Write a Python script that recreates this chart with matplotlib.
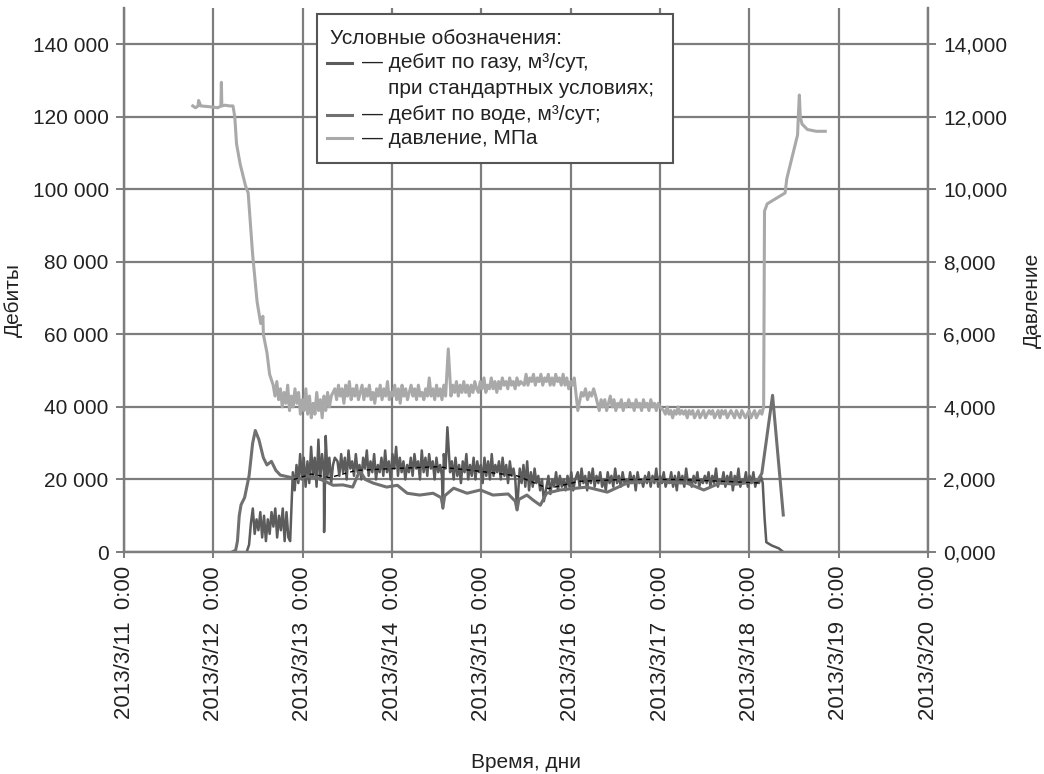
import numpy as np
import matplotlib
matplotlib.use("Agg")
import matplotlib.pyplot as plt
import matplotlib.dates as mdates
from matplotlib.ticker import FuncFormatter, FixedLocator
from matplotlib.lines import Line2D
from matplotlib.patches import Rectangle
from datetime import datetime

plt.rcParams['font.family'] = ['Liberation Sans', 'DejaVu Sans']

# время в сутках от 2013/3/11 0:00
# давление, МПа: начало (до спуска), шумная полка по участкам, подъём после остановки
press_t_start = [0.77, 0.80, 0.83, 0.835, 0.86, 0.95, 1.05, 1.085, 1.09, 1.095, 1.13, 1.18, 1.22,
                 1.24, 1.26, 1.30, 1.33, 1.36, 1.39, 1.44, 1.49, 1.53, 1.555, 1.56, 1.60, 1.63]
press_v_start = [12.3, 12.25, 12.3, 12.45, 12.3, 12.28, 12.25, 12.3, 12.95, 12.3, 12.32, 12.3, 12.3,
                 12.0, 11.25, 10.7, 10.4, 10.1, 9.9, 8.2, 6.9, 6.3, 6.5, 6.0, 5.5, 4.9]
press_seg_t0 = [1.67, 2.36, 3.66, 4.48, 5.12, 5.32, 6.04]
press_seg_t1 = [2.32, 3.60, 4.44, 5.04, 5.28, 6.00, 7.14]
press_seg_v = [
    [4.6, 4.3, 4.7, 4.2, 4.5, 4.0, 4.4, 4.1, 4.6, 3.9, 4.3, 4.0, 4.5, 4.1, 4.4, 3.8, 4.2, 3.9,
     4.5, 3.8, 4.3, 3.7, 4.1, 3.8, 4.4, 3.9, 4.2, 3.7, 4.3, 3.9, 4.4, 4.0, 4.3],
    [4.5, 4.2, 4.6, 4.3, 4.5, 4.1, 4.6, 4.3, 4.7, 4.2, 4.5, 4.3, 4.6, 4.2, 4.4, 4.6, 4.2, 4.5,
     4.3, 4.6, 4.2, 4.4, 4.1, 4.5, 4.3, 4.6, 4.2, 4.5, 4.3, 4.7, 4.2, 4.4, 4.3, 4.6, 4.2, 4.5,
     4.1, 4.6, 4.3, 4.5, 4.2, 4.4, 4.6, 4.3, 4.5, 4.2, 4.6, 4.3, 4.4, 4.2, 4.5, 4.3, 4.8, 4.3,
     4.5, 4.2, 4.6, 4.3, 4.5, 4.2, 4.6, 4.3],
    [4.3, 4.6, 4.4, 4.7, 4.3, 4.6, 4.4, 4.7, 4.4, 4.6, 4.3, 4.6, 4.4, 4.7, 4.5, 4.4, 4.7, 4.5,
     4.8, 4.4, 4.6, 4.5, 4.8, 4.5, 4.7, 4.4, 4.7, 4.5, 4.8, 4.6, 4.7, 4.5, 4.8, 4.6, 4.7, 4.5,
     4.8, 4.6, 4.7],
    [4.6, 4.9, 4.6, 4.8, 4.7, 4.9, 4.6, 4.8, 4.7, 4.9, 4.6, 4.8, 4.7, 4.9, 4.6, 4.8, 4.6, 4.9,
     4.7, 4.8, 4.6, 4.9, 4.6, 4.8, 4.5, 4.7, 4.6, 4.8],
    [4.4, 4.3, 4.5, 4.2, 4.4, 4.3, 4.5, 4.3],
    [3.9, 4.2, 4.0, 4.2, 3.9, 4.1, 4.3, 4.0, 4.2, 3.9, 4.1, 4.0, 4.2, 3.9, 4.1, 4.0, 4.2, 4.0,
     4.1, 3.9, 4.2, 4.0, 4.1, 3.9, 4.2, 4.0, 4.1, 3.9, 4.2, 4.0, 4.1, 3.9, 4.1, 4.0],
    [3.9, 3.8, 4.0, 3.8, 3.9, 3.7, 3.9, 3.8, 4.0, 3.8, 3.9, 3.8, 3.9, 3.7, 3.9, 3.8, 3.9, 3.7,
     3.8, 3.9, 3.7, 3.8, 3.9, 3.7, 3.8, 3.9, 3.8, 3.9, 3.7, 3.8, 3.9, 3.7, 3.9, 3.8, 3.9, 3.7,
     3.8, 3.9, 3.8, 3.7, 3.9, 3.8, 3.7, 3.9, 3.8, 3.7, 3.8, 3.9, 3.7, 3.8, 3.9, 3.7, 3.8, 3.9,
     3.8],
]
press_spike_t = [3.63, 5.08]
press_spike_v = [5.6, 3.9]
press_t_end = [7.16, 7.17, 7.20, 7.30, 7.40, 7.42, 7.48, 7.54, 7.55, 7.56, 7.57, 7.59, 7.65, 7.75, 7.85]
press_v_end = [4.0, 9.4, 9.6, 9.75, 9.9, 10.3, 10.9, 11.5, 12.1, 12.6, 12.0, 11.8, 11.65, 11.6, 11.6]

# дебит по газу, тыс. м3/сут (шумная линия)
gas_t_start = [1.38]
gas_v_start = [0.5]
gas_seg_t0 = [1.40, 1.89, 2.39, 3.65, 4.43, 4.73, 5.08]
gas_seg_t1 = [1.84, 2.36, 3.60, 4.38, 4.70, 5.05, 7.15]
gas_seg_v = [
    [2, 8, 12, 5, 9, 6, 11, 4, 10, 3, 9, 5, 11, 7, 12, 4, 10, 6, 12, 3, 11, 4],
    [22, 17, 24, 19, 27, 20, 26, 18, 25, 19, 29, 21, 26, 18, 31, 20, 27, 22, 32, 21, 26, 19, 24, 26],
    [25, 21, 27, 22, 26, 20, 28, 23, 25, 21, 27, 22, 24, 20, 26, 23, 28, 21, 25, 22, 27, 20, 24,
     22, 26, 21, 28, 22, 25, 20, 27, 23, 29, 21, 26, 22, 25, 20, 24, 22, 26, 21, 27, 23, 25, 20,
     28, 22, 26, 21, 27, 23, 25, 20, 26, 22, 24, 21, 27, 23],
    [22, 25, 20, 26, 21, 24, 19, 25, 22, 27, 20, 24, 21, 26, 20, 25, 22, 24, 19, 26, 21, 25, 20,
     27, 21, 24, 22, 25, 20, 26, 21, 24, 19, 25, 21, 23, 20],
    [23, 19, 24, 18, 25, 17, 22, 18, 23, 19, 21, 17, 20, 14],
    [18, 21, 16, 20, 18, 22, 17, 21, 18, 20, 17, 21, 18, 22, 17, 20],
    [22, 18, 23, 19, 21, 17, 22, 19, 23, 18, 21, 19, 22, 18, 20, 17, 22, 19, 21, 18,
     23, 19, 21, 18, 22, 19, 20, 18, 22, 19, 21, 17, 22, 19, 20, 18, 21, 19, 22, 18,
     21, 19, 23, 18, 21, 19, 22, 18, 20, 19, 22, 18, 21, 17, 22, 19, 21, 18, 23, 19,
     20, 18, 21, 19, 22, 18, 20, 19, 21, 19, 22, 18, 21, 19, 23, 18, 20, 19, 22, 18,
     21, 19, 22, 17, 21, 19, 23, 18, 20, 19, 22, 18, 21, 19, 22, 18, 20, 19, 21, 19],
]
gas_spike_t = [1.86, 2.24, 3.57, 3.62, 4.40]
gas_spike_v = [3, 5.5, 12, 34.4, 11.6]
gas_t_end = [7.17, 7.19, 7.25, 7.33, 7.38]
gas_v_end = [9.6, 2.7, 1.8, 1.0, 0]

# средняя линия (чёрный пунктир)
mean_t = [1.90, 2.10, 2.30, 2.60, 3.00, 3.50, 3.90, 4.40, 4.75, 5.10, 5.60, 6.20, 6.70, 7.14]
mean_v = [20, 21.5, 20.5, 22.5, 23, 23.5, 22.5, 21, 17.5, 19.5, 20, 20, 19.5, 19]

# дебит по воде, тыс. м3/сут (гладкая линия)
water_t = [1.21, 1.25, 1.27, 1.29, 1.31, 1.35, 1.40, 1.44, 1.47, 1.51, 1.56, 1.60, 1.65, 1.70, 1.75,
           1.86, 1.95, 2.05, 2.15, 2.25, 2.34, 2.45, 2.56, 2.64, 2.70, 2.79, 2.94, 3.06, 3.17, 3.31,
           3.46, 3.55, 3.57, 3.59, 3.69, 3.84, 3.99, 4.13, 4.30, 4.38, 4.40, 4.42, 4.51, 4.58, 4.66,
           4.73, 4.88, 5.03, 5.18, 5.41, 5.63, 5.93, 6.10, 6.30, 6.49, 6.67, 6.85, 7.04, 7.10, 7.14,
           7.26, 7.38]
water_v = [0, 0.5, 3, 10, 13, 15, 21, 30, 33.5, 31, 26, 24, 25, 22.5, 21.2,
           20.6, 20, 21, 20.5, 19.5, 18.4, 18.5, 17.9, 22.5, 20, 19, 17.9, 18.4, 16.2, 15.7,
           16.2, 15, 12.4, 15.5, 17.6, 16.2, 17.1, 15.7, 16, 14, 11.6, 14.5, 15.7, 14.3, 12.9,
           16.2, 17.1, 17.5, 17.9, 16.5, 19, 19.8, 19.2, 19, 17.1, 19, 18.7, 19.3, 20, 21.7,
           43.2, 10.2]

day_labels = list(range(10))


def build(t_start, v_start, t0s, t1s, segs, sp_t, sp_v, t_end, v_end):
    t = list(t_start)
    v = list(v_start)
    for a, b, vals in zip(t0s, t1s, segs):
        t += list(np.linspace(a, b, len(vals)))
        v += vals
    t += sp_t
    v += sp_v
    t = np.array(t)
    v = np.array(v, dtype=float)
    order = np.argsort(t, kind='stable')
    t = np.concatenate([t[order], t_end])
    v = np.concatenate([v[order], v_end])
    return t, v


base = mdates.date2num(datetime(2013, 3, 11))
pt, pv = build(press_t_start, press_v_start, press_seg_t0, press_seg_t1, press_seg_v,
               press_spike_t, press_spike_v, press_t_end, press_v_end)
gt, gv = build(gas_t_start, gas_v_start, gas_seg_t0, gas_seg_t1, gas_seg_v,
               gas_spike_t, gas_spike_v, gas_t_end, gas_v_end)

grid_c = '#7d7d7d'
gas_c = '#5c5c5c'
water_c = '#707070'
press_c = '#a9a9a9'
txt_c = '#222222'
fs = 15

fig = plt.figure(figsize=(10.44, 7.74), dpi=100)
ax = fig.add_axes([124 / 1044, 222 / 774, 804 / 1044, 544 / 774])
ax2 = ax.twinx()

ax.plot(base + gt, gv * 1000, color=gas_c, lw=1.8, zorder=3)
ax.plot(base + np.array(mean_t), np.array(mean_v) * 1000, color='black', lw=1.0,
        ls=(0, (3, 3)), zorder=4)
ax.plot(base + np.array(water_t), np.array(water_v) * 1000, color=water_c, lw=2.2, zorder=3)
ax2.plot(base + pt, pv, color=press_c, lw=2.2, zorder=3)

ax.set_xlim(base, base + 9)
ax.set_ylim(0, 150000)
ax2.set_ylim(0, 15)
ax.xaxis.set_major_locator(FixedLocator([base + d for d in day_labels]))


def date_fmt(x, pos):
    d = mdates.num2date(x)
    return f"{d.year}/{d.month}/{d.day}  {d.hour}:{d.minute:02d}"


ax.xaxis.set_major_formatter(FuncFormatter(date_fmt))
ax.set_yticks(range(0, 140001, 20000))
ax.yaxis.set_major_formatter(FuncFormatter(lambda v, p: f"{v:,.0f}".replace(',', ' ')))
ax2.set_yticks(range(0, 15, 2))
ax2.yaxis.set_major_formatter(FuncFormatter(lambda v, p: f"{v:.3f}".replace('.', ',')))

ax.grid(True, color=grid_c, lw=1.6)
ax.set_axisbelow(True)
for a in (ax, ax2):
    a.spines['top'].set_visible(False)
    for s in ('left', 'right', 'bottom'):
        a.spines[s].set_color(grid_c)
        a.spines[s].set_linewidth(1.6)
    a.tick_params(colors=grid_c, labelcolor=txt_c, labelsize=fs, width=1.4, length=6, pad=5)
ax.tick_params(axis='x', labelrotation=90, length=4, pad=6, labelsize=16)


def px(x, y):
    return x / 1044, 1 - y / 774


# подписи осей
fig.text(*px(526, 763), 'Время, дни', fontsize=fs, color=txt_c, ha='center', va='center')
fig.text(*px(13, 300), 'Дебиты', fontsize=fs, color=txt_c, ha='center', va='center', rotation=90)
fig.text(*px(1032, 300), 'Давление', fontsize=fs, color=txt_c, ha='center', va='center',
         rotation=90)

# легенда
x0, y0 = px(317, 163)
x1, y1 = px(673, 14)
fig.patches.append(Rectangle((x0, y0), x1 - x0, y1 - y0, transform=fig.transFigure,
                             facecolor='white', edgecolor='#555555', lw=1.5, zorder=10))
fig.text(*px(330, 38), 'Условные обозначения:', fontsize=fs, va='center', ha='left',
         color=txt_c, zorder=11)
entries = [(63, gas_c, '— дебит по газу, м³/сут,'),
           (115, water_c, '— дебит по воде, м³/сут;'),
           (138, press_c, '— давление, МПа')]
for yy, c, lab in entries:
    lx0, ly = px(327, yy)
    lx1, _ = px(352, yy)
    fig.add_artist(Line2D([lx0, lx1], [ly, ly], transform=fig.transFigure, color=c, lw=2.2,
                          zorder=11))
    fig.text(*px(362, yy), lab, fontsize=fs, va='center', ha='left', color=txt_c, zorder=11)
fig.text(*px(388, 88), 'при стандартных условиях;', fontsize=fs, va='center', ha='left',
         color=txt_c, zorder=11)

fig.savefig('out.png', dpi=100)
